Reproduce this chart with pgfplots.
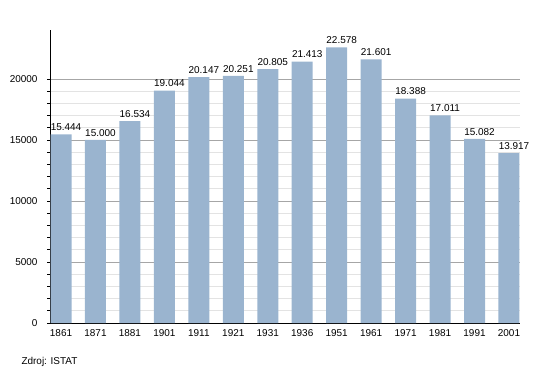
\documentclass[border=0pt]{standalone}
\usepackage{pgfplots}
\pgfplotsset{compat=1.18}
\usepackage{fontspec}
\setmainfont{Liberation Sans}
\definecolor{barc}{RGB}{154,180,207}
\begin{document}
\begin{tikzpicture}[x=1bp,y=1bp]
\path[use as bounding box] (0,0) rectangle (550,373);
\begin{axis}[
  at={(50bp,50bp)}, anchor=south west,
  width=470bp, height=293bp, scale only axis,
  xmin=-0.32, xmax=13.32,
  ymin=0, ymax=24000,
  axis x line=bottom, axis y line=left,
  axis line style={-, black, line width=0.8pt},
  xtick={0,...,13},
  xticklabels={1861,1871,1881,1901,1911,1921,1931,1936,1951,1961,1971,1981,1991,2001},
  x tick style={draw=none},
  ytick={0,5000,10000,15000,20000},
  minor y tick num=4,
  tick align=outside,
  y tick style={black, line width=0.6pt},
  major tick length=3bp, minor tick length=3bp,
  scaled y ticks=false,
  yticklabel style={/pgf/number format/fixed, /pgf/number format/1000 sep={}, xshift=-6bp},
  /pgf/number format/assume math mode=true,
  ymajorgrids, yminorgrids,
  major grid style={gray!70, line width=0.6pt},
  minor grid style={gray!22, line width=0.6pt},
  tick label style={font=\fontsize{10}{12}\selectfont},
  every node near coord/.append style={font=\fontsize{10}{12}\selectfont, black, xshift=5bp},
  clip=false,
]
\addplot[ybar, bar width=21bp, fill=barc, draw=none,
  nodes near coords, point meta=explicit symbolic]
  table[x=x, y=y, meta=l] {
x y l
0 15444 15.444
1 15000 15.000
2 16534 16.534
3 19044 19.044
4 20147 20.147
5 20251 20.251
6 20805 20.805
7 21413 21.413
8 22578 22.578
9 21601 21.601
10 18388 18.388
11 17011 17.011
12 15082 15.082
13 13917 13.917
};
\end{axis}
\node[anchor=west, font=\fontsize{10}{12}\selectfont] at (18bp,11bp) {Zdroj: ISTAT};
\end{tikzpicture}
\end{document}
